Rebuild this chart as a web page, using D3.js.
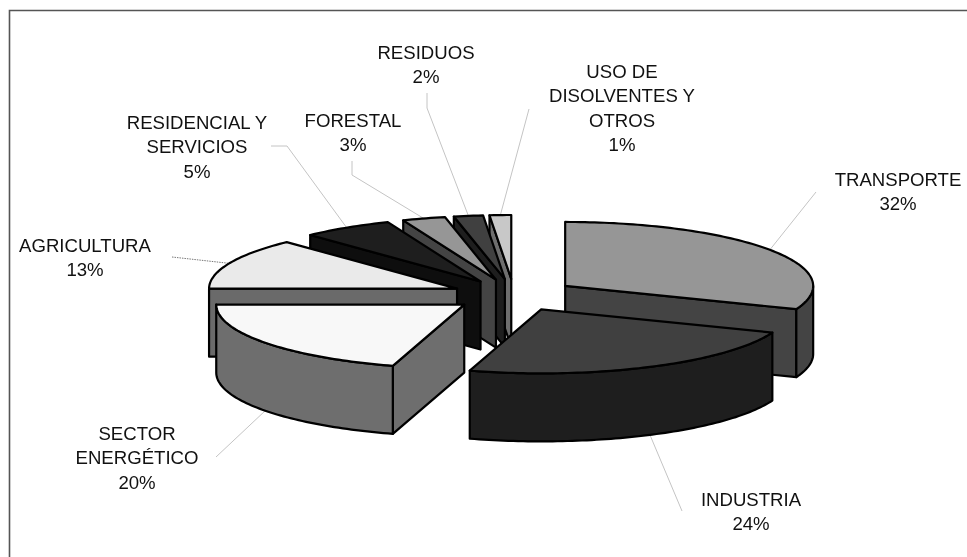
<!DOCTYPE html>
<html>
<head>
<meta charset="utf-8">
<script src="https://cdn.jsdelivr.net/npm/d3@7"></script>
<style>
  html, body { margin: 0; background: #fff; }
  svg { display: block; filter: blur(0.35px); }
  text { font-family: "Liberation Sans", Arial, sans-serif; font-size: 18.6px; fill: #111; text-anchor: middle; }
</style>
</head>
<body>
<div id="container"></div>
<script>
const w = 967,
  h = 557;

// labels as printed, shares as the slices are actually drawn (the 3D view skews them a bit)
const categories = [
  ['TRANSPORTE'],
  ['INDUSTRIA'],
  ['SECTOR', 'ENERGÉTICO'],
  ['AGRICULTURA'],
  ['RESIDENCIAL Y', 'SERVICIOS'],
  ['FORESTAL'],
  ['RESIDUOS'],
  ['USO DE', 'DISOLVENTES Y', 'OTROS'],
];
const percents = [32, 24, 20, 13, 5, 3, 2, 1];
const drawnShares = [30.9, 23.75, 20.35, 12.95, 5.95, 2.8, 1.9, 1.4];

const topColors = ['#969696', '#404040', '#f8f8f8', '#eaeaea', '#1e1e1e', '#969696', '#404040', '#c8c8c8'];
const wallColors = ['#444444', '#1e1e1e', '#6e6e6e', '#6a6a6a', '#0e0e0e', '#444444', '#1e1e1e', '#6e6e6e'];

// back slices first, front ones last
const drawOrder = [7, 6, 5, 4, 3, 2, 0, 1];

const cx = 514,
  cy = 295,
  rx = 248,
  ry = 64,
  depth = 68,
  explode = 0.25;

const labelX = [898, 751, 137, 85, 197, 353, 426, 622];
const labelY = [186, 506, 440, 252, 129, 127, 59, 78];
const lineGap = 24.3;

// where each leader starts beside its label, the elbow is optional
const leaderStart = [[816, 192], [682, 511], [216, 457], [172, 257], [271, 146], [352, 161], [427, 93], [529, 109]];
const leaderElbow = [null, null, null, null, [287, 146], [352, 175], [427, 108], null];

const svg = d3
  .select('#container')
  .append('svg')
  .attr('width', w)
  .attr('height', h);

svg
  .append('path')
  .attr('d', d3.line()([[9.5, h], [9.5, 10.5], [w, 10.5]]))
  .attr('fill', 'none')
  .attr('stroke', '#555')
  .attr('stroke-width', 1.6);

const pie = d3.pie().sort(null).startAngle(0).endAngle(2 * Math.PI);
const slices = pie(drawnShares);

const line = d3.line();

function apex(d) {
  const mid = (d.startAngle + d.endAngle) / 2;
  return [cx + explode * rx * Math.sin(mid), cy - explode * ry * Math.cos(mid)];
}

function rim(d, a, drop) {
  const p = apex(d);
  return [p[0] + rx * Math.sin(a), p[1] - ry * Math.cos(a) + drop];
}

function arcPoints(d, a0, a1, drop) {
  const n = Math.max(2, Math.ceil((a1 - a0) / 0.02));
  return d3.range(n + 1).map((i) => rim(d, a0 + ((a1 - a0) * i) / n, drop));
}

const gLeaders = svg.append('g');
const gSlices = svg.append('g');

drawOrder.forEach((i) => {
  const d = slices[i];
  const p = apex(d);
  const s0 = rim(d, d.startAngle, 0);
  const s1 = rim(d, d.endAngle, 0);
  const g = gSlices.append('g');

  function wall(points) {
    g.append('path')
      .attr('d', line(points) + 'Z')
      .attr('fill', wallColors[i])
      .attr('stroke', '#000')
      .attr('stroke-width', 2.2)
      .attr('stroke-linejoin', 'round');
  }

  // a cut face only shows when it turns towards the viewer
  if (Math.sin(d.startAngle) < 0) {
    wall([p, s0, [s0[0], s0[1] + depth], [p[0], p[1] + depth]]);
  }
  if (Math.sin(d.endAngle) > 0) {
    wall([p, s1, [s1[0], s1[1] + depth], [p[0], p[1] + depth]]);
  }

  // outer wall, front half of the ellipse only
  const a0 = Math.max(d.startAngle, Math.PI / 2);
  const a1 = Math.min(d.endAngle, (3 * Math.PI) / 2);
  if (a1 > a0) {
    wall(arcPoints(d, a0, a1, 0).concat(arcPoints(d, a0, a1, depth).reverse()));
  }

  g.append('path')
    .attr('d', line([p].concat(arcPoints(d, d.startAngle, d.endAngle, 0))) + 'Z')
    .attr('fill', topColors[i])
    .attr('stroke', '#000')
    .attr('stroke-width', 2.2)
    .attr('stroke-linejoin', 'round');
});

// leaders end on the rim of their slice
slices.forEach((d, i) => {
  const mid = (d.startAngle + d.endAngle) / 2;
  const end = rim(d, mid, Math.cos(mid) < 0 ? depth : 0);
  const pts = [leaderStart[i]];
  if (leaderElbow[i]) pts.push(leaderElbow[i]);
  pts.push(end);
  gLeaders
    .append('path')
    .attr('d', line(pts))
    .attr('fill', 'none')
    .attr('stroke', i === 3 ? '#777' : '#c4c4c4')
    .attr('stroke-width', 1)
    .attr('stroke-dasharray', i === 3 ? '1.5 1' : null);
});

categories.forEach((lines, i) => {
  const t = svg.append('text').attr('x', labelX[i]).attr('y', labelY[i]);
  lines.concat(percents[i] + '%').forEach((txt, j) => {
    t.append('tspan')
      .attr('x', labelX[i])
      .attr('y', labelY[i] + j * lineGap)
      .text(txt);
  });
});
</script>
</body>
</html>
